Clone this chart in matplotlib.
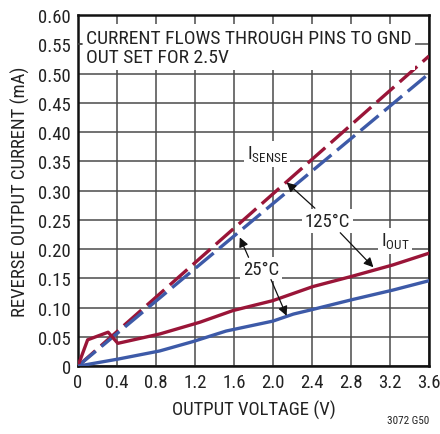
import matplotlib
matplotlib.use('Agg')
import matplotlib.pyplot as plt

plt.rcParams['font.family'] = ['Roboto Condensed', 'DejaVu Sans']

# data
isense_125_v = [0, 3.6]
isense_125_i = [0, 0.53]
isense_25_v = [0, 3.6]
isense_25_i = [0, 0.50]

iout_125_v = [0, 0.10, 0.31, 0.41, 0.84, 1.25, 1.59, 2.0, 2.41, 2.82, 3.23, 3.6]
iout_125_i = [0, 0.045, 0.058, 0.039, 0.055, 0.075, 0.095, 0.112, 0.136, 0.154, 0.173, 0.193]
iout_25_v = [0, 0.41, 0.84, 1.18, 1.52, 2.0, 2.21, 2.41, 2.82, 3.23, 3.6]
iout_25_i = [0, 0.012, 0.026, 0.042, 0.060, 0.077, 0.089, 0.097, 0.114, 0.130, 0.146]

xticks = [0, 0.4, 0.8, 1.2, 1.6, 2.0, 2.4, 2.8, 3.2, 3.6]
xlabels = ['0', '0.4', '0.8', '1.2', '1.6', '2.0', '2.4', '2.8', '3.2', '3.6']
yticks = [0, 0.05, 0.10, 0.15, 0.20, 0.25, 0.30, 0.35, 0.40, 0.45, 0.50, 0.55, 0.60]
ylabels = ['0', '0.05', '0.10', '0.15', '0.20', '0.25', '0.30', '0.35', '0.40', '0.45', '0.50', '0.55', '0.60']

red = '#9a1538'
blue = '#3d5aa8'
txt = '#222222'

fig = plt.figure(figsize=(4.4, 4.35), dpi=100)
ax = fig.add_axes([0.177, 0.156, 0.798, 0.807])
ax.set_xlim(0, 3.6)
ax.set_ylim(0, 0.6)
ax.set_xticks(xticks)
ax.set_xticklabels(xlabels)
ax.set_yticks(yticks)
ax.set_yticklabels(ylabels)
ax.tick_params(length=0, labelsize=13.5, pad=5, colors=txt)
ax.grid(True, color='#4a4a4a', linewidth=1.1)
ax.set_axisbelow(True)
for s in ax.spines.values():
    s.set_linewidth(1.8)
    s.set_color('#111111')

ax.plot(isense_125_v, isense_125_i, color=red, lw=2.4, dashes=(7, 2.2), zorder=3)
ax.plot(isense_25_v, isense_25_i, color=blue, lw=2.4, dashes=(7, 2.2), zorder=3)
ax.plot(iout_125_v, iout_125_i, color=red, lw=2.4, zorder=3)
ax.plot(iout_25_v, iout_25_i, color=blue, lw=2.4, zorder=3)

box = dict(facecolor='white', edgecolor='none', pad=2)
ax.text(0.08, 0.577, 'CURRENT FLOWS THROUGH PINS TO GND\nOUT SET FOR 2.5V',
        fontsize=14, va='top', ha='left', linespacing=1.1, color=txt,
        bbox=dict(facecolor='white', edgecolor='none', pad=3), zorder=4)
# short tick stubs on the left spine where the note box hides the grid
for yv in [0.55]:
    ax.plot([0, 0.04], [yv, yv], color='#4a4a4a', lw=1.1, zorder=5, clip_on=False)

ax.text(1.94, 0.362, r'I$_{\mathregular{SENSE}}$', fontsize=13.5, ha='center', va='center',
        color=txt, bbox=box, zorder=4)
ax.text(3.25, 0.214, r'I$_{\mathregular{OUT}}$', fontsize=13.5, ha='center', va='center',
        color=txt, bbox=box, zorder=4)
ax.text(2.56, 0.248, '125°C', fontsize=13.5, ha='center', va='center',
        color=txt, bbox=box, zorder=4)
ax.text(1.88, 0.166, '25°C', fontsize=13.5, ha='center', va='center',
        color=txt, bbox=box, zorder=4)

arrow = dict(arrowstyle='-|>', color='#111111', lw=0.9, mutation_scale=14, shrinkA=0, shrinkB=0)
ax.annotate('', xy=(2.14, 0.314), xytext=(2.43, 0.27), arrowprops=arrow, zorder=5)
ax.annotate('', xy=(3.03, 0.169), xytext=(2.69, 0.228), arrowprops=arrow, zorder=5)
ax.annotate('', xy=(1.66, 0.22), xytext=(1.75, 0.186), arrowprops=arrow, zorder=5)
ax.annotate('', xy=(2.14, 0.086), xytext=(1.98, 0.148), arrowprops=arrow, zorder=5)

ax.set_xlabel('OUTPUT VOLTAGE (V)', fontsize=13.5, color=txt, labelpad=6)
ax.set_ylabel('REVERSE OUTPUT CURRENT (mA)', fontsize=13.5, color=txt, labelpad=6)
fig.text(0.975, 0.02, '3072 G50', fontsize=8, ha='right', va='bottom', color=txt)

fig.savefig('out.png', dpi=100)
